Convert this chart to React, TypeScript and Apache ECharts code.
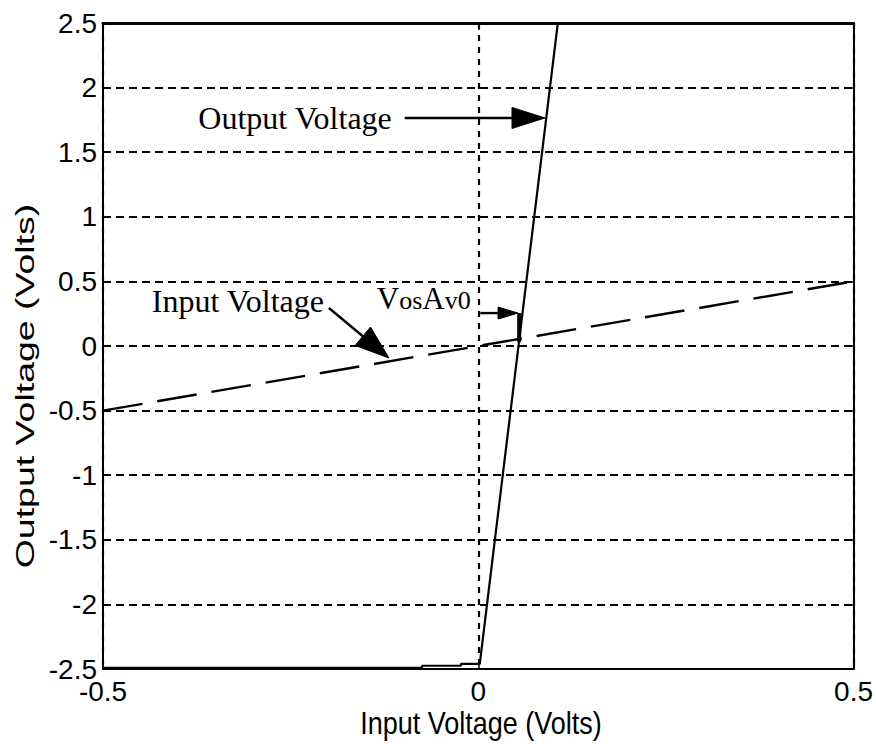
import React, { useEffect, useRef } from "react";
import * as echarts from "echarts";

// ---- data ----
const xTicks = [-0.5, 0, 0.5];
const yMin = -2.5;
const yMax = 2.5;
const yStep = 0.5;

// Output voltage (saturating amplifier)
const outputX = [-0.5, -0.075, -0.075, -0.023, -0.023, 0.002, 0.106, 0.5];
const outputY = [-2.492, -2.492, -2.475, -2.475, -2.46, -2.46, 2.5, 2.5];

// Input voltage (y = x)
const inputX = [-0.5, 0.5];
const inputY = [-0.5, 0.5];

// V_os * A_v0 marker
const vosX = [0.0545, 0.0545];
const vosY = [0.255, 0.03];

// annotation anchors (data coordinates)
const outLabelAt = [-0.373, 1.765];
const outArrowFrom = [-0.098, 1.765];
const outArrowTo = [0.0889, 1.765];
const inLabelAt = [-0.435, 0.35];
const inArrowFrom = [-0.199, 0.294];
const inArrowTo = [-0.119, -0.093];
const vosLabelAt = [-0.01, 0.37];
const vosArrowFrom = [0.0027, 0.255];
const vosArrowTo = [0.053, 0.255];

const zip = (xs: number[], ys: number[]) => xs.map((x, i) => [x, ys[i]]);

const SANS = '"Liberation Sans", Arial, sans-serif';
const SERIF = '"Liberation Serif", "Times New Roman", serif';

function arrow(p0: number[], p1: number[], headLen: number, headHalf: number) {
  const dx = p1[0] - p0[0];
  const dy = p1[1] - p0[1];
  const L = Math.hypot(dx, dy);
  const ux = dx / L;
  const uy = dy / L;
  const base = [p1[0] - ux * headLen, p1[1] - uy * headLen];
  const left = [base[0] - uy * headHalf, base[1] + ux * headHalf];
  const right = [base[0] + uy * headHalf, base[1] - ux * headHalf];
  return [
    {
      type: "line",
      shape: { x1: p0[0], y1: p0[1], x2: base[0] + ux * 2, y2: base[1] + uy * 2 },
      style: { stroke: "#000", lineWidth: 2.4 },
      z: 100,
    },
    {
      type: "polygon",
      shape: { points: [p1, left, right] },
      style: { fill: "#000", stroke: "#000", lineWidth: 1 },
      z: 100,
    },
  ];
}

export default function App() {
  const ref = useRef<HTMLDivElement>(null);
  useEffect(() => {
    document.body.style.margin = "0";
    if (!ref.current) return;
    const chart = echarts.init(ref.current, null, { renderer: "svg" });
    const axisLabelStyle = { color: "#000", fontSize: 28, fontFamily: SANS };
    const option: any = {
      animation: false,
      backgroundColor: "#fff",
      grid: { left: 103, right: 19, top: 23, bottom: 75, containLabel: false },
      xAxis: [
        {
          type: "value",
          min: xTicks[0],
          max: xTicks[xTicks.length - 1],
          interval: 0.5,
          axisLine: { show: true, onZero: false, lineStyle: { color: "#000", width: 2 } },
          axisTick: { show: true, inside: true, length: 7, lineStyle: { color: "#000", width: 1.5 } },
          axisLabel: { ...axisLabelStyle, margin: 8, showMinLabel: true, showMaxLabel: true },
          splitLine: { show: true, lineStyle: { color: "#000", width: 2.2, type: [6, 6] } },
        },
        {
          type: "value",
          position: "top",
          min: xTicks[0],
          max: xTicks[xTicks.length - 1],
          interval: 0.5,
          axisLine: { show: true, onZero: false, lineStyle: { color: "#000", width: 3 } },
          axisTick: { show: true, inside: true, length: 7, lineStyle: { color: "#000", width: 1.5 } },
          axisLabel: { show: false },
          splitLine: { show: false },
        },
      ],
      yAxis: [
        {
          type: "value",
          min: yMin,
          max: yMax,
          interval: yStep,
          axisLine: { show: true, onZero: false, lineStyle: { color: "#000", width: 2 } },
          axisTick: { show: true, inside: true, length: 7, lineStyle: { color: "#000", width: 1.5 } },
          axisLabel: { ...axisLabelStyle, margin: 6, showMinLabel: true, showMaxLabel: true },
          splitLine: { show: true, lineStyle: { color: "#000", width: 2, type: [8, 5] } },
        },
        {
          type: "value",
          position: "right",
          min: yMin,
          max: yMax,
          interval: yStep,
          axisLine: { show: true, onZero: false, lineStyle: { color: "#000", width: 2 } },
          axisTick: { show: true, inside: true, length: 7, lineStyle: { color: "#000", width: 1.5 } },
          axisLabel: { show: false },
          splitLine: { show: false },
        },
      ],
      series: [
        {
          name: "Output Voltage",
          type: "line",
          data: zip(outputX, outputY),
          symbol: "none",
          lineStyle: { color: "#000", width: 2.2 },
          z: 5,
        },
        {
          name: "Input Voltage",
          type: "line",
          data: zip(inputX, inputY),
          symbol: "none",
          lineStyle: { color: "#000", width: 2.4, type: [40, 15] },
          z: 5,
        },
        {
          name: "VosAv0",
          type: "line",
          data: zip(vosX, vosY),
          symbol: "none",
          lineStyle: { color: "#000", width: 4 },
          z: 6,
        },
      ],
    };
    chart.setOption(option);

    const px = (p: number[]) => chart.convertToPixel({ seriesIndex: 0 }, p) as number[];

    const oL = px(outLabelAt);
    const iL = px(inLabelAt);
    const vL = px(vosLabelAt);

    const graphic: any[] = [
      {
        type: "text",
        x: oL[0],
        y: oL[1],
        z: 100,
        style: {
          text: "Output Voltage",
          fontSize: 32,
          fontFamily: SERIF,
          fill: "#000",
          align: "left",
          verticalAlign: "middle",
        },
      },
      {
        type: "text",
        x: iL[0],
        y: iL[1],
        z: 100,
        style: {
          text: "Input Voltage",
          fontSize: 32,
          fontFamily: SERIF,
          fill: "#000",
          align: "left",
          verticalAlign: "middle",
        },
      },
      {
        type: "text",
        x: vL[0],
        y: vL[1],
        z: 100,
        style: {
          text: "{b|V}{s|os}{b|A}{s|v0}",
          fill: "#000",
          align: "right",
          verticalAlign: "middle",
          rich: {
            b: { fontSize: 31, fontFamily: SERIF, lineHeight: 31, fill: "#000" },
            s: { fontSize: 26, fontFamily: SERIF, lineHeight: 8, verticalAlign: "bottom", fill: "#000" },
          },
        },
      },
      ...arrow(px(outArrowFrom), px(outArrowTo), 33, 10.5),
      ...arrow(px(inArrowFrom), px(inArrowTo), 34, 12),
      ...arrow(px(vosArrowFrom), px(vosArrowTo), 20, 6),
      {
        type: "text",
        x: 25,
        y: 386,
        rotation: Math.PI / 2,
        scaleX: 1.5,
        z: 100,
        style: {
          text: "Output Voltage (Volts)",
          fontSize: 25,
          fontFamily: SANS,
          fill: "#000",
          align: "center",
          verticalAlign: "middle",
        },
      },
      {
        type: "text",
        x: 481,
        y: 723,
        scaleY: 1.15,
        z: 100,
        style: {
          text: "Input Voltage (Volts)",
          fontSize: 27,
          fontFamily: SANS,
          fill: "#000",
          align: "center",
          verticalAlign: "middle",
        },
      },
    ];
    chart.setOption({ graphic });

    return () => {
      chart.dispose();
    };
  }, []);
  return <div ref={ref} style={{ width: 876, height: 744 }} />;
}
